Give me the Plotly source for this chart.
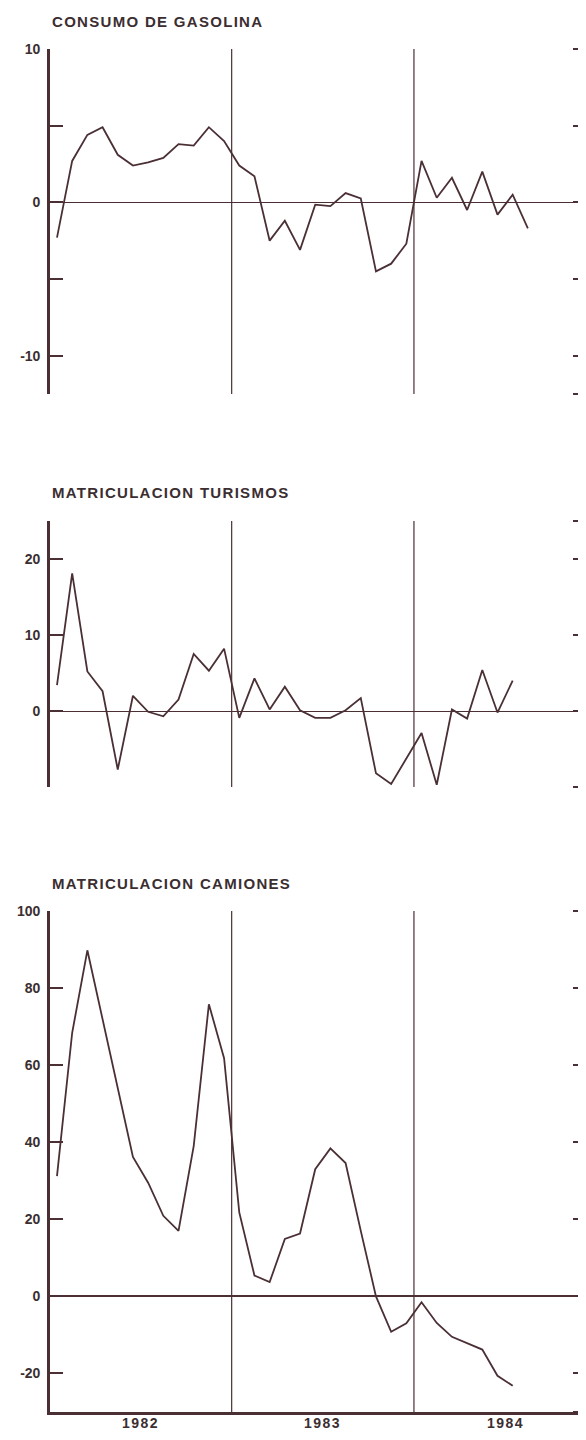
import plotly.graph_objects as go

# ---------------- data (monthly, Jan 1982 onwards) ----------------
gasolina = [-2.3, 2.7, 4.4, 4.9, 3.1, 2.4, 2.6, 2.9, 3.8, 3.7, 4.9, 4.0,
            2.4, 1.7, -2.5, -1.2, -3.1, -0.15, -0.25, 0.6, 0.25, -4.5, -4.0, -2.7,
            2.7, 0.3, 1.6, -0.5, 2.0, -0.8, 0.5, -1.7]
turismos = [3.4, 18.1, 5.2, 2.6, -7.7, 2.0, -0.1, -0.7, 1.5, 7.5, 5.3, 8.2,
            -0.9, 4.3, 0.2, 3.2, 0.1, -0.9, -0.9, 0.1, 1.7, -8.2, -9.6, -6.2,
            -2.9, -9.7, 0.2, -1.0, 5.4, -0.2, 4.0]
camiones = [31.2, 68.4, 89.8, 71.8, 54.0, 36.2, 29.5, 20.9, 17.0, 39.0, 75.8, 61.8,
            21.8, 5.4, 3.7, 14.9, 16.3, 33.0, 38.4, 34.6, 17.0, 0.0, -9.2, -7.0,
            -1.5, -6.9, -10.5, -12.2, -13.8, -20.6, -23.2]

titles = ["CONSUMO DE GASOLINA", "MATRICULACION TURISMOS", "MATRICULACION CAMIONES"]
year_labels = ["1982", "1983", "1984"]
year_centers = [5.5, 17.5, 29.5]
year_bounds = [11.5, 23.5]

y_ranges = [[-12.5, 10], [-10, 25], [-30, 100]]
y_tickvals = [[-12.5, -10, -5, 0, 5, 10],
              [-10, 0, 10, 20, 25],
              [-30, -20, 0, 20, 40, 60, 80, 100]]
y_ticktext = [["", "-10", "", "0", "", "10"],
              ["", "0", "10", "20", ""],
              ["", "-20", "0", "20", "40", "60", "80", "100"]]

series = [gasolina, turismos, camiones]

# ---------------- layout geometry ----------------
OFF = 8                      # page body margin
W, H = 586 - 2 * OFF, 1440 - 2 * OFF
C = "#4a3034"
TXT = "#3b2e31"
FONT = "Liberation Sans"
panel_px = [(49, 394), (521, 787), (911, 1412)]   # top, bottom in target pixels
title_px = [22, 492, 883]
left_px = 50
x_rng = [-0.46, 34.3]
x_dom = [(left_px - OFF) / W, 1.0]
RT = 6
right_pos = 1 - RT / W

fig = go.Figure()
layout = dict(width=W, height=H, margin=dict(l=0, r=0, t=0, b=0, autoexpand=False),
              paper_bgcolor="white", plot_bgcolor="white", showlegend=False)
shapes, annotations = [], []

for k in range(3):
    n = k + 1
    sfx = "" if n == 1 else str(n)
    rsfx = str(n + 3)
    top, bot = panel_px[k]
    ydom = [1 - (bot - OFF) / H, 1 - (top - OFF) / H]
    vals = series[k]
    xs = list(range(len(vals)))

    fig.add_trace(go.Scatter(x=xs, y=vals, mode="lines", xaxis="x" + sfx, yaxis="y" + sfx,
                             line=dict(color=C, width=1.8), hoverinfo="skip"))
    # invisible trace carrying the right-hand tick axis
    fig.add_trace(go.Scatter(x=xs, y=vals, mode="lines", xaxis="x" + sfx, yaxis="y" + rsfx,
                             line=dict(color=C, width=0.1), opacity=0, hoverinfo="skip"))

    last = (k == 2)
    layout["xaxis" + sfx] = dict(
        domain=x_dom, range=x_rng, anchor="y" + sfx,
        showgrid=False, zeroline=False, automargin=False,
        showline=last, linecolor=C, linewidth=2.5,
        showticklabels=False, ticks="",
    )
    layout["yaxis" + sfx] = dict(
        domain=ydom, range=y_ranges[k], anchor="x" + sfx, automargin=False,
        showgrid=False, zeroline=True, zerolinecolor=C,
        zerolinewidth=2 if last else 1.3,
        showline=True, linecolor=C, linewidth=2.6,
        ticks="inside", ticklen=13, tickwidth=2, tickcolor=C,
        tickvals=y_tickvals[k], ticktext=y_ticktext[k],
        ticklabelstandoff=4,
        tickfont=dict(family=FONT, size=14, color=TXT, weight="bold"),
    )
    layout["yaxis" + rsfx] = dict(
        overlaying="y" + sfx, side="right", anchor="free", position=right_pos,
        range=y_ranges[k], showgrid=False, zeroline=False, showline=False,
        automargin=False,
        ticks="outside", ticklen=RT, tickwidth=1.6, tickcolor=C,
        tickvals=y_tickvals[k], showticklabels=False,
    )
    for b in year_bounds:
        shapes.append(dict(type="line", xref="x" + sfx, yref="y" + sfx + " domain",
                           x0=b, x1=b, y0=0, y1=1, line=dict(color=C, width=1.2)))
    annotations.append(dict(
        xref="paper", yref="paper", x=(left_px - OFF) / W, y=1 - (title_px[k] - OFF) / H,
        xanchor="left", yanchor="middle", showarrow=False,
        text='<span style="letter-spacing:1.3px">' + titles[k] + "</span>",
        font=dict(family=FONT, size=15, color=TXT, weight="bold"),
    ))

# year labels under the bottom panel
for xc, lab in zip(year_centers, year_labels):
    annotations.append(dict(
        xref="x3", yref="paper", x=xc, y=0, xanchor="center", yanchor="bottom",
        showarrow=False, borderpad=0,
        text='<span style="letter-spacing:1.5px">' + lab + "</span>",
        font=dict(family=FONT, size=14, color=TXT, weight="bold"),
    ))

layout["shapes"] = shapes
layout["annotations"] = annotations
fig.update_layout(**layout)
fig.write_html("out.html")
